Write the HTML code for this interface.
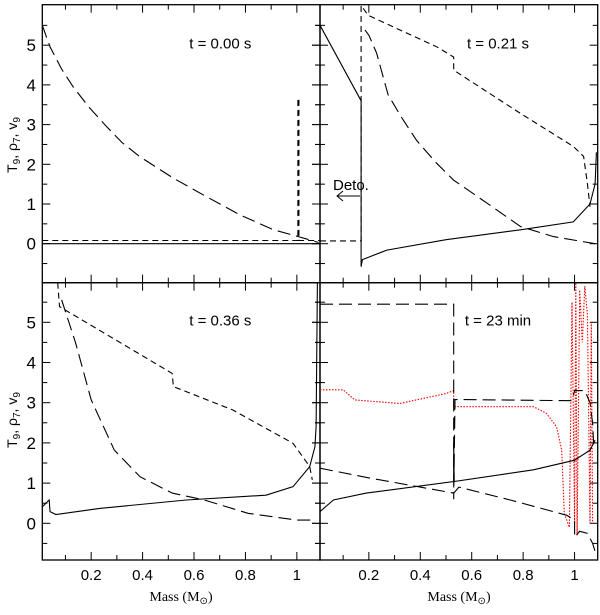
<!DOCTYPE html>
<html><head><meta charset="utf-8"><style>
body{margin:0;background:#fff;}
svg{font-family:"Liberation Sans",sans-serif;}
</style></head><body>
<svg id="chart" width="600" height="610" viewBox="0 0 600 610" xmlns="http://www.w3.org/2000/svg"></svg>
<script>
// ---- data (x = mass in Msun, y = value) ----
const xTicks = [0.2,0.4,0.6,0.8,1];
const xTickLabels = ["0.2","0.4","0.6","0.8","1"];
const yTicks = [0,1,2,3,4,5];
const yTickLabels = ["0","1","2","3","4","5"];
const panelTitles = ["t = 0.00 s","t = 0.21 s","t = 0.36 s","t = 23 min"];

// panel A t=0.00
const aRhoX = [0.01,0.04,0.085,0.13,0.19,0.26,0.32,0.39,0.52,0.65,0.78,0.91,1.006,1.084];
const aRhoY = [5.5,4.96,4.4,3.95,3.45,2.95,2.55,2.19,1.65,1.18,0.72,0.35,0.18,0.03];
const aVelX = [0.01,1.004,1.004,1.008,1.008,1.09];
const aVelY = [0.08,0.08,3.66,3.66,0.08,0.08];
const aTX = [0.01,1.09];
const aTY = [0,0];

// panel B t=0.21
const bTX = [0.01,0.17,0.17,0.175,0.27,0.5,0.79,0.995,1.06,1.08,1.085];
const bTY = [5.5,3.6,-0.58,-0.4,-0.16,0.1,0.35,0.55,1.0,1.5,2.3];
const bVelX = [0.01,0.17,0.17,0.198,0.464,0.53,0.53,0.79,0.995,1.035,1.05,1.06];
const bVelY = [0.07,0.07,6.0,5.75,4.96,4.7,4.37,3.28,2.45,2.2,1.52,0.93];
const bRhoX = [0.185,0.2,0.23,0.275,0.33,0.386,0.46,0.53,0.66,0.79,0.918,1.08];
const bRhoY = [5.38,5.25,4.8,3.75,3.15,2.6,2.05,1.6,1.02,0.43,0.18,0];

// panel C t=0.36
const cTX = [0.01,0.037,0.04,0.063,0.233,0.57,0.88,0.985,1.05,1.07,1.075,1.08];
const cTY = [0.41,0.58,0.29,0.22,0.37,0.58,0.7,0.91,1.41,1.9,2.4,6];
const cRhoX = [0.085,0.14,0.2,0.29,0.39,0.515,0.64,0.81,1.0,1.06];
const cRhoY = [5.56,4.48,3.07,1.82,1.16,0.75,0.58,0.25,0.08,0.08];
const cVelX = [0.07,0.077,0.515,0.52,0.75,0.985,1.05,1.06];
const cVelY = [6.0,5.39,3.73,3.4,2.82,1.99,1.41,1.08];

// panel D t=23 min
const dVelX = [0.01,0.53,0.53,0.535,0.99,1.0,1.04,1.06,1.07,1.075];
const dVelY = [5.45,5.45,0.6,3.08,3.05,3.3,3.3,3.0,2.5,1.9];
const dRhoX = [0.01,0.2,0.4,0.53,0.55,0.75,0.97,1.0,1.0,1.02,1.05,1.07,1.08];
const dRhoY = [1.37,1.13,0.9,0.75,0.9,0.58,0.2,0.08,-0.35,-0.2,-0.25,-0.5,-0.7];
const dTX = [0.01,0.062,0.19,0.53,0.53,0.532,0.84,1.0,1.06,1.08];
const dTY = [0.29,0.58,0.75,1.04,2.0,1.04,1.33,1.57,1.82,2.07];
const dRedX = [0.01,0.1,0.145,0.32,0.5,0.53,0.53,0.84,0.89,0.93,0.95,0.96,0.98,0.99,1.0,1.005,1.01,1.02,1.03,1.04,1.05,1.06,1.065,1.07];
const dRedY = [3.32,3.32,3.07,2.98,3.23,3.3,2.9,2.9,2.74,2.4,1.82,0.25,-0.1,5.5,0.0,6.0,-0.3,5.8,4.5,5.9,5.2,0,5.0,0];

// ---- layout ----
const NS="http://www.w3.org/2000/svg";
const svg=document.getElementById('chart');
const X0=0.01, X1=1.09, PW=277.7;
const panels=[
 {left:42.3, top:4.7, bottom:282.7, y0:243.7, unit:39.7},
 {left:320, top:4.7, bottom:282.7, y0:243.7, unit:39.7},
 {left:42.3, top:282.7, bottom:560, y0:523.3, unit:40.2},
 {left:320, top:282.7, bottom:560, y0:523.3, unit:40.2}
];
function sx(p,v){return p.left+(v-X0)/(X1-X0)*PW;}
function sy(p,v){return Math.max(p.top,Math.min(p.bottom,p.y0-v*p.unit));}
function mk(tag,attrs){const e=document.createElementNS(NS,tag);for(const k in attrs)e.setAttribute(k,attrs[k]);svg.appendChild(e);return e;}
function series(p,xs,ys,dash,color,name,w){
  const d=xs.map((x,i)=>(i?'L':'M')+sx(p,x).toFixed(1)+','+sy(p,ys[i]).toFixed(1)).join(' ');
  const e=mk('path',{d:d,fill:'none',stroke:color||'#000','stroke-width':w||1.1,'stroke-dasharray':dash||'none'});
  
  
}
const LONG='13,6', SHORT='6,4', DOT='1.5,1.5';

panels.forEach((p,pi)=>{
  const fr=mk('rect',{x:p.left,y:p.top,width:PW,height:p.bottom-p.top,fill:'none',stroke:'#000','stroke-width':1.3});
  
  
  for(let k=1;k<=10;k++){
    const v=k/10; const x=sx(p,v); const L=(k%2==0)?8:5;
    mk('line',{x1:x,y1:p.top,x2:x,y2:p.top+L,stroke:'#000','stroke-width':1});
    mk('line',{x1:x,y1:p.bottom,x2:x,y2:p.bottom-L,stroke:'#000','stroke-width':1});
  }
  for(let k=-1;k<=11;k++){
    const v=k/2; const y=p.y0-v*p.unit; if(y<p.top+1||y>p.bottom-1)continue;
    const L=(k%2==0)?8:5;
    mk('line',{x1:p.left,y1:y,x2:p.left+L,y2:y,stroke:'#000','stroke-width':1});
    mk('line',{x1:p.left+PW,y1:y,x2:p.left+PW-L,y2:y,stroke:'#000','stroke-width':1});
    if(pi%2==1){mk('line',{x1:p.left,y1:y,x2:p.left-L,y2:y,stroke:'#000','stroke-width':1});}
  }
  if(pi%2==0){
    yTicks.forEach((v,i)=>{
      const t=mk('text',{x:36,y:p.y0-v*p.unit+6,'text-anchor':'end','font-size':17});
      t.textContent=yTickLabels[i];
      
      
    });
  }
  if(pi>=2){
    xTicks.forEach((v,i)=>{
      const t=mk('text',{x:sx(p,v),y:p.bottom+20,'text-anchor':'middle','font-size':15});
      t.textContent=xTickLabels[i];
      
      
    });
  }
  const tt=mk('text',{x:p.left+178,y:p.top+(pi>=2?43:44),'text-anchor':'middle','font-size':15});
  tt.textContent=panelTitles[pi];
  
  
});
const [A,B,C,D]=panels;
series(A,aRhoX,aRhoY,LONG,'#000','density-line-t0');
series(A,aVelX,aVelY,SHORT,'#000','velocity-line-t0');
series(A,aTX,aTY,null,'#000','temperature-line-t0');
series(B,bTX,bTY,null,'#000','temperature-line-t021');
series(B,bVelX,bVelY,SHORT,'#000','velocity-line-t021');
series(B,bRhoX,bRhoY,LONG,'#000','density-line-t021');
series(C,cTX,cTY,null,'#000','temperature-line-t036');
series(C,cRhoX,cRhoY,LONG,'#000','density-line-t036');
series(C,cVelX,cVelY,SHORT,'#000','velocity-line-t036');
series(D,dRedX,dRedY,DOT,'#e00','red-dotted-line-t23');
series(D,dVelX,dVelY,LONG,'#000','velocity-line-t23');
series(D,dRhoX,dRhoY,LONG,'#000','density-line-t23');
series(D,dTX,dTY,null,'#000','temperature-line-t23');

const dt=mk('text',{x:333,y:190,'font-size':15});
dt.textContent='Deto.';


const ar=mk('path',{d:'M360,196 L337,196 M343,191 L337,196 L343,201',fill:'none',stroke:'#000','stroke-width':1});



[145,420].forEach(cy=>{
  const t=mk('text',{x:0,y:0,'text-anchor':'middle','font-size':14,transform:'translate(17,'+cy+') rotate(-90)'});
  t.innerHTML='T<tspan font-size="10" dy="3">9</tspan><tspan dy="-3">, ρ</tspan><tspan font-size="10" dy="3">7</tspan><tspan dy="-3">, v</tspan><tspan font-size="10" dy="3">9</tspan>';
  
  
});
[181,459].forEach(cx=>{
  const t=mk('text',{x:cx,y:601,'text-anchor':'middle','font-size':14,'font-family':'Liberation Serif, serif'});
  t.innerHTML='Mass (M<tspan font-size="10" dy="3">⊙</tspan><tspan dy="-3">)</tspan>';
  
  
});
</script>
</body></html>
